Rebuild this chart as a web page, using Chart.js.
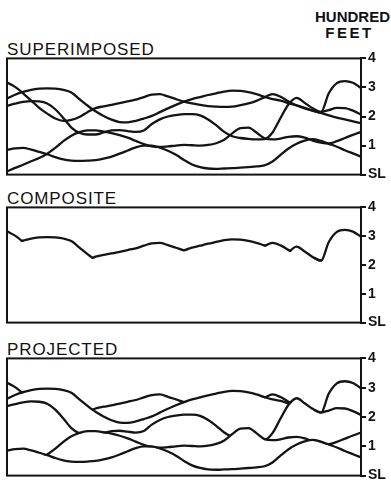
<!DOCTYPE html>
<html>
<head>
<meta charset="utf-8">
<script src="https://cdn.jsdelivr.net/npm/chart.js@4/dist/chart.umd.min.js"></script>
<style>
  html, body { margin: 0; padding: 0; background: #fff; }
  body { width: 391px; height: 483px; position: relative; overflow: hidden;
         font-family: "Liberation Sans", Arial, sans-serif; color: #111; }
  .title { position: absolute; left: 7px; font-size: 17px; line-height: 17px; letter-spacing: 0.9px; white-space: nowrap; }
  .unit { position: absolute; font-weight: bold; font-size: 15px; line-height: 15px; text-align: center; white-space: nowrap; }
  canvas { position: absolute; left: 0; }
</style>
</head>
<body>
<div class="unit" style="left:314px; top:9px; width:77px; letter-spacing:0px;">HUNDRED</div>
<div class="unit" style="left:311px; top:25px; width:77px; letter-spacing:2.5px;">FEET</div>

<div class="title" style="top:41px;">SUPERIMPOSED</div>
<div class="title" style="top:190px;">COMPOSITE</div>
<div class="title" style="top:341px;">PROJECTED</div>

<canvas id="superimposed" width="391" height="137" style="top:48px;"></canvas>
<canvas id="composite" width="391" height="136" style="top:197px;"></canvas>
<canvas id="projected" width="391" height="138" style="top:348px;"></canvas>

<script>
// Stations along the line of section (equally spaced, left to right)
const stations = [0, 1, 2, 3, 4, 5, 6, 7, 8, 9, 10, 11, 12, 13, 14, 15, 16, 17, 18, 19, 20, 21,
                  22, 23, 24, 25, 26, 27, 28, 29, 30, 31, 32, 33, 34, 35, 36, 37, 38, 39, 40, 41, 42, 43, 44];

// Height in hundreds of feet above sea level; profile1 is the nearest, profile5 the farthest
const profile1 = [0.85, 0.9, 0.92, 0.86, 0.78, 0.7, 0.6, 0.52, 0.48, 0.47,
                  0.48, 0.5, 0.55, 0.62, 0.72, 0.83, 0.94, 1.0, 1.0, 0.93,
                  0.82, 0.68, 0.5, 0.35, 0.26, 0.21, 0.2, 0.21, 0.22, 0.24,
                  0.26, 0.28, 0.32, 0.45, 0.68, 0.9, 1.06, 1.17, 1.22, 1.16,
                  1.06, 0.96, 0.84, 0.73, 0.62];
const profile2 = [0.11, 0.23, 0.34, 0.46, 0.57, 0.72, 0.92, 1.15, 1.34, 1.46,
                  1.52, 1.52, 1.48, 1.43, 1.36, 1.27, 1.16, 1.05, 0.97, 0.95,
                  0.97, 1.0, 1.02, 1.01, 1.0, 1.02, 1.08, 1.2, 1.42, 1.6,
                  1.62, 1.45, 1.25, 1.21, 1.24, 1.3, 1.32, 1.27, 1.17, 1.1,
                  1.07, 1.15, 1.26, 1.37, 1.47];
const profile3 = [2.37, 2.44, 2.5, 2.53, 2.52, 2.45, 2.25, 1.95, 1.62, 1.44,
                  1.38, 1.38, 1.45, 1.52, 1.53, 1.5, 1.47, 1.52, 1.74, 1.9,
                  2.0, 2.05, 2.08, 2.08, 2.04, 1.9, 1.7, 1.47, 1.32, 1.26,
                  1.23, 1.21, 1.22, 1.45, 1.95, 2.42, 2.64, 2.47, 2.28, 2.16,
                  2.22, 2.3, 2.29, 2.2, 2.07];
const profile4 = [2.62, 2.75, 2.85, 2.92, 2.96, 2.97, 2.96, 2.92, 2.83, 2.6,
                  2.38, 2.18, 2.02, 1.89, 1.81, 1.8, 1.85, 1.93, 2.02, 2.15,
                  2.28, 2.4, 2.51, 2.6, 2.67, 2.74, 2.8, 2.86, 2.89, 2.88,
                  2.84, 2.77, 2.68, 2.6, 2.55, 2.46, 2.38, 2.3, 2.2, 2.12,
                  2.04, 1.96, 1.9, 1.83, 1.77];
const profile5 = [3.17, 3.02, 2.8, 2.55, 2.3, 2.1, 1.93, 1.85, 1.88, 1.98,
                  2.15, 2.29, 2.35, 2.4, 2.46, 2.52, 2.58, 2.67, 2.75, 2.77,
                  2.69, 2.6, 2.51, 2.45, 2.4, 2.36, 2.34, 2.33, 2.34, 2.39,
                  2.45, 2.54, 2.66, 2.77, 2.68, 2.52, 2.38, 2.28, 2.2, 2.13,
                  2.8, 3.15, 3.22, 3.16, 2.98];

const heightTicks = [0, 1, 2, 3, 4];
const tickNames = ['SL', '1', '2', '3', '4'];

const INK = '#141414';
const FONT = '"Liberation Sans", Arial, sans-serif';
const profiles = [profile1, profile2, profile3, profile4, profile5];

// Box round the plotting area
const frame = {
  id: 'frame',
  afterDatasetsDraw(chart) {
    const { ctx, chartArea: a } = chart;
    ctx.save();
    ctx.lineWidth = 2;
    ctx.strokeStyle = INK;
    ctx.strokeRect(a.left, a.top, a.right - a.left, a.bottom - a.top);
    ctx.restore();
  }
};

// Hides each profile wherever it lies below the profiles that cover it:
// 'projected' -> covered by every nearer profile; 'envelope' -> covered by all others.
const occlusion = {
  id: 'occlusion',
  beforeDatasetDraw(chart, args, opts) {
    const ctx = chart.ctx;
    const a = chart.chartArea;
    const n = chart.data.datasets.length;
    const i = args.index;
    const covers = [];
    for (let j = 0; j < n; j++) {
      if (opts.mode === 'projected' && j < i) covers.push(j);
      if (opts.mode === 'envelope' && j !== i) covers.push(j);
    }
    ctx.save();
    for (const j of covers) {
      const line = chart.getDatasetMeta(j).dataset;
      if (typeof line.updateControlPoints === 'function') line.updateControlPoints(a, 'x');
      ctx.translate(0, 1.2);
      ctx.beginPath();
      line.path(ctx);
      ctx.lineTo(a.right + 2, a.top - 6);
      ctx.lineTo(a.left - 2, a.top - 6);
      ctx.closePath();
      ctx.translate(0, -1.2);
      ctx.clip();
    }
  },
  afterDatasetDraw(chart) {
    chart.ctx.restore();
  }
};

function makeDatasets() {
  return profiles.map((values, k) => ({
    label: 'profile' + (k + 1),
    data: values,
    borderColor: INK,
    borderWidth: 2.3,
    pointRadius: 0,
    fill: false,
    cubicInterpolationMode: 'monotone'
  }));
}

function panelOptions(mode) {
  return {
    responsive: false,
    animation: false,
    events: [],
    layout: { padding: { left: 7, right: 0, top: 10, bottom: 10 } },
    plugins: {
      legend: { display: false },
      tooltip: { enabled: false },
      occlusion: { mode: mode }
    },
    scales: {
      x: { type: 'category', display: false, offset: false },
      y: {
        position: 'right',
        min: 0,
        max: 4,
        afterFit(scale) { scale.width = 30; },
        afterBuildTicks(scale) { scale.ticks = heightTicks.map(v => ({ value: v })); },
        border: { display: true, color: INK, width: 2 },
        grid: { drawOnChartArea: false, drawTicks: true, tickLength: 5, color: INK, lineWidth: 2 },
        ticks: {
          padding: 2,
          color: INK,
          font: { family: FONT, size: 14, weight: 'bold' },
          callback: (v) => tickNames[heightTicks.indexOf(v)]
        }
      }
    }
  };
}

function panel(id, mode) {
  const plugins = [frame];
  if (mode !== 'none') plugins.push(occlusion);
  return new Chart(document.getElementById(id), {
    type: 'line',
    data: { labels: stations, datasets: makeDatasets() },
    options: panelOptions(mode),
    plugins: plugins
  });
}

panel('superimposed', 'none');
panel('composite', 'envelope');
panel('projected', 'projected');
</script>
</body>
</html>
